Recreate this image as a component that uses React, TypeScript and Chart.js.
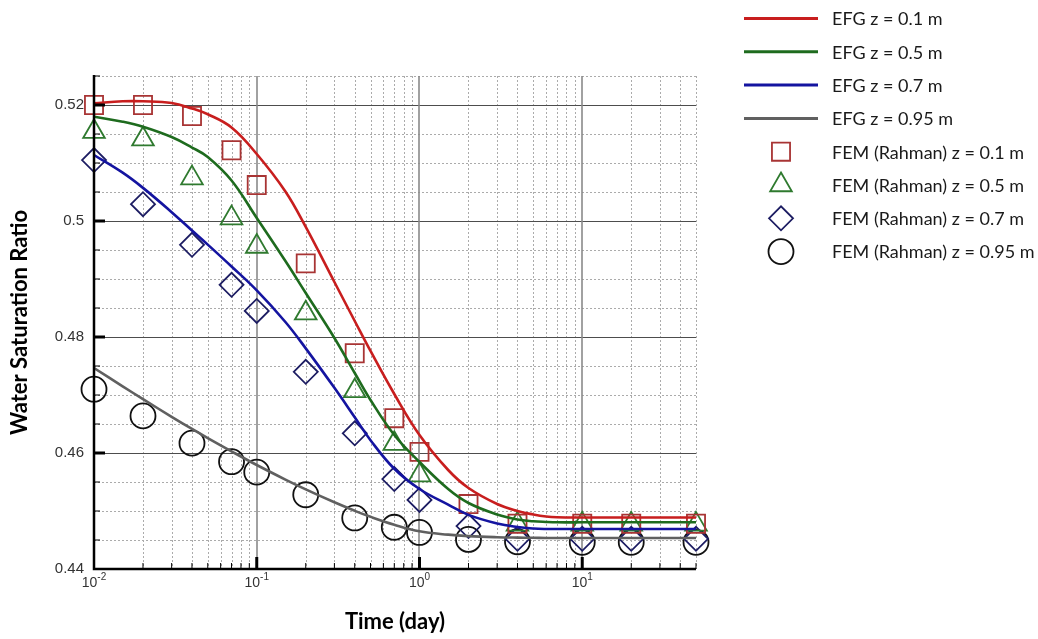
import React, { useEffect, useRef } from 'react';
import { Chart, registerables } from 'chart.js';

Chart.register(...registerables);

// ---------------- data ----------------
const curveTimes = [0.01, 0.015, 0.02, 0.03, 0.04, 0.05, 0.07, 0.1, 0.15, 0.2, 0.3, 0.4, 0.5, 0.7, 1, 1.5, 2, 3, 4, 5, 6, 7, 10, 20, 50];
const efgZ01 = [0.52029, 0.52064, 0.52064, 0.52034, 0.5194, 0.5184, 0.51612, 0.51155, 0.50509, 0.49897, 0.48948, 0.48276, 0.47759, 0.47017, 0.4631, 0.45707, 0.45397, 0.45121, 0.45, 0.4494, 0.44905, 0.44892, 0.44888, 0.44888, 0.44888];
const efgZ05 = [0.51798, 0.51712, 0.51626, 0.51448, 0.51267, 0.51103, 0.50698, 0.50052, 0.4931, 0.48759, 0.47983, 0.47379, 0.46914, 0.4631, 0.45845, 0.45379, 0.45138, 0.4494, 0.44854, 0.44823, 0.44811, 0.44805, 0.44805, 0.44805, 0.44805];
const efgZ07 = [0.51138, 0.50833, 0.50571, 0.50152, 0.49836, 0.49593, 0.49216, 0.48804, 0.48259, 0.47804, 0.47123, 0.46616, 0.46221, 0.45728, 0.45379, 0.45109, 0.44933, 0.44784, 0.44724, 0.44698, 0.4469, 0.4469, 0.4469, 0.4469, 0.4469];
const efgZ095 = [0.47466, 0.4715, 0.46929, 0.46624, 0.46414, 0.46257, 0.46028, 0.45793, 0.45542, 0.45373, 0.4515, 0.45004, 0.449, 0.44764, 0.4465, 0.44592, 0.44567, 0.44548, 0.44541, 0.44538, 0.44534, 0.44534, 0.44534, 0.44534, 0.44534];

const femTimes = [0.01, 0.02, 0.04, 0.07, 0.1, 0.2, 0.4, 0.7, 1, 2, 4, 10, 20, 50];
const femZ01 = [0.5200, 0.5200, 0.5181, 0.5122, 0.5062, 0.4927, 0.4772, 0.4660, 0.4602, 0.4512, 0.4478, 0.4478, 0.4478, 0.4478];
const femZ05 = [0.5154, 0.5141, 0.5074, 0.5005, 0.4956, 0.4841, 0.4707, 0.4616, 0.4562, null, 0.4477, 0.4477, 0.4477, 0.4477];
const femZ07 = [0.5105, 0.5029, 0.4959, 0.4890, 0.4845, 0.4740, 0.4634, 0.4555, 0.4519, 0.4474, 0.4452, 0.4452, 0.4452, 0.4452];
const femZ095 = [0.4710, 0.4664, 0.4617, 0.4585, 0.4567, 0.4528, 0.4488, 0.4472, 0.4463, 0.4451, 0.4447, 0.4446, 0.4446, 0.4446];

const lineLabels = ['EFG z = 0.1 m', 'EFG z = 0.5 m', 'EFG z = 0.7 m', 'EFG z = 0.95 m'];
const markerLabels = ['FEM (Rahman) z = 0.1 m', 'FEM (Rahman) z = 0.5 m', 'FEM (Rahman) z = 0.7 m', 'FEM (Rahman) z = 0.95 m'];

const yTickValues = [0.44, 0.46, 0.48, 0.5, 0.52];
const xTickExponents = [-2, -1, 0, 1];
const xTitle = 'Time (day)';
const yTitle = 'Water Saturation Ratio';

const X_MIN = 0.01;
const X_MAX = 50;
const Y_MIN = 0.44;
const Y_MAX = 0.525;
const Y_MINOR_STEP = 0.005;

// ---------------- styles ----------------
const lineColors = ['#c81e1e', '#1e6b1e', '#1414a0', '#606060'];
const markerColors = ['#a83434', '#2f7a2f', '#1c1c62', '#111111'];
const markerStyles = ['rect', 'triangle', 'rectRot', 'circle'];
const markerRadius = [12.8, 12.5, 12, 12.5];
const LABEL_FONT = '"Liberation Sans", Arial, sans-serif';
const TITLE_FONT = 'Lato, "Open Sans", sans-serif';

function drawMarker(ctx: CanvasRenderingContext2D, style: string, x: number, y: number, r: number) {
  ctx.beginPath();
  if (style === 'rect') {
    const s = r * Math.SQRT1_2;
    ctx.rect(x - s, y - s, 2 * s, 2 * s);
  } else if (style === 'triangle') {
    for (let i = 0; i < 3; i++) {
      const a = (i * 2 * Math.PI) / 3;
      const px = x + Math.sin(a) * r;
      const py = y - Math.cos(a) * r;
      if (i === 0) ctx.moveTo(px, py); else ctx.lineTo(px, py);
    }
    ctx.closePath();
  } else if (style === 'rectRot') {
    ctx.moveTo(x - r, y);
    ctx.lineTo(x, y - r);
    ctx.lineTo(x + r, y);
    ctx.lineTo(x, y + r);
    ctx.closePath();
  } else {
    ctx.arc(x, y, r, 0, Math.PI * 2);
  }
  ctx.stroke();
}

const decorPlugin = {
  id: 'decor',
  beforeDatasetsDraw(chart: any) {
    const { ctx, chartArea: a } = chart;
    const xs = chart.scales.x;
    const ys = chart.scales.y;
    ctx.save();
    // minor dotted grid
    ctx.lineWidth = 1;
    ctx.strokeStyle = '#ababab';
    ctx.setLineDash([2, 2]);
    const nMinor = Math.round((Y_MAX - Y_MIN) / Y_MINOR_STEP);
    for (let i = 1; i <= nMinor; i++) {
      if (i % 4 === 0) continue;
      const py = Math.round(ys.getPixelForValue(Y_MIN + i * Y_MINOR_STEP)) + 0.5;
      ctx.beginPath();
      ctx.moveTo(a.left, py);
      ctx.lineTo(a.right, py);
      ctx.stroke();
    }
    for (let e = -2; e <= 1; e++) {
      for (let k = 2; k <= 9; k++) {
        const v = k * Math.pow(10, e);
        if (v > X_MAX + 1e-9) break;
        const px = Math.round(xs.getPixelForValue(v)) + 0.5;
        ctx.beginPath();
        ctx.moveTo(px, a.top);
        ctx.lineTo(px, a.bottom);
        ctx.stroke();
      }
    }
    ctx.setLineDash([]);
    // major grid
    ctx.strokeStyle = '#4d4d4d';
    ctx.lineWidth = 1;
    for (const v of yTickValues) {
      if (v <= Y_MIN) continue;
      const py = Math.round(ys.getPixelForValue(v)) + 0.5;
      ctx.beginPath();
      ctx.moveTo(a.left, py);
      ctx.lineTo(a.right, py);
      ctx.stroke();
    }
    ctx.strokeStyle = '#8a8a8a';
    ctx.lineWidth = 1.6;
    for (const e of xTickExponents) {
      const v = Math.pow(10, e);
      if (v <= X_MIN) continue;
      const px = Math.round(xs.getPixelForValue(v));
      ctx.beginPath();
      ctx.moveTo(px, a.top);
      ctx.lineTo(px, a.bottom);
      ctx.stroke();
    }
    ctx.restore();
  },
  afterDatasetsDraw(chart: any) {
    const { ctx, chartArea: a } = chart;
    const xs = chart.scales.x;
    const ys = chart.scales.y;
    ctx.save();
    // axes
    ctx.strokeStyle = '#000';
    ctx.lineWidth = 2.5;
    ctx.beginPath();
    ctx.moveTo(a.left, a.top - 1);
    ctx.lineTo(a.left, a.bottom);
    ctx.lineTo(a.right, a.bottom);
    ctx.stroke();
    // y ticks
    const nMinor = Math.round((Y_MAX - Y_MIN) / Y_MINOR_STEP);
    for (let i = 1; i <= nMinor; i++) {
      const py = ys.getPixelForValue(Y_MIN + i * Y_MINOR_STEP);
      const major = i % 4 === 0;
      ctx.lineWidth = major ? 3 : 1;
      ctx.beginPath();
      ctx.moveTo(a.left, py);
      ctx.lineTo(a.left + (major ? 11 : 6), py);
      ctx.stroke();
    }
    // x ticks
    for (let e = -2; e <= 1; e++) {
      for (let k = 1; k <= 9; k++) {
        const v = k * Math.pow(10, e);
        if (v > X_MAX + 1e-9 || v <= X_MIN) continue;
        const px = xs.getPixelForValue(v);
        const major = k === 1;
        ctx.lineWidth = major ? 3 : 1;
        ctx.beginPath();
        ctx.moveTo(px, a.bottom);
        ctx.lineTo(px, a.bottom - (major ? 12 : 6));
        ctx.stroke();
      }
    }
    // x tick labels with superscript
    ctx.fillStyle = '#333';
    ctx.textBaseline = 'alphabetic';
    ctx.textAlign = 'left';
    for (const e of xTickExponents) {
      const px = xs.getPixelForValue(Math.pow(10, e));
      ctx.font = `14px ${LABEL_FONT}`;
      const wb = ctx.measureText('10').width;
      ctx.font = `10px ${LABEL_FONT}`;
      const sup = String(e);
      const ws = ctx.measureText(sup).width;
      const start = px - (wb + ws) / 2;
      ctx.font = `14px ${LABEL_FONT}`;
      ctx.fillText('10', start, a.bottom + 18);
      ctx.font = `10px ${LABEL_FONT}`;
      ctx.fillText(sup, start + wb, a.bottom + 11);
    }
    // legend
    const rowY0 = 18.5;
    const rowStep = 33.3;
    const lineX0 = 744;
    const lineX1 = 818;
    const markX = 781;
    const textX = 832;
    ctx.font = `18px ${TITLE_FONT}`;
    ctx.textBaseline = 'middle';
    const all = [...lineLabels, ...markerLabels];
    all.forEach((label, i) => {
      const yy = rowY0 + i * rowStep;
      if (i < 4) {
        ctx.strokeStyle = lineColors[i];
        ctx.lineWidth = 3;
        ctx.beginPath();
        ctx.moveTo(lineX0, yy);
        ctx.lineTo(lineX1, yy);
        ctx.stroke();
      } else {
        const j = i - 4;
        ctx.strokeStyle = markerColors[j];
        ctx.lineWidth = 1.8;
        drawMarker(ctx, markerStyles[j], markX, yy, markerRadius[j]);
      }
      ctx.fillStyle = '#1a1a1a';
      ctx.fillText(label, textX, yy + 1);
    });
    ctx.restore();
  },
};

export default function App() {
  const canvasRef = useRef<HTMLCanvasElement | null>(null);

  useEffect(() => {
    const canvas = canvasRef.current;
    if (!canvas) return;

    const lineSeries = [efgZ01, efgZ05, efgZ07, efgZ095];
    const markerSeries = [femZ01, femZ05, femZ07, femZ095];

    const lineDatasets = lineSeries.map((arr, i) => ({
      label: lineLabels[i],
      data: curveTimes.map((t, k) => ({ x: t, y: arr[k] })),
      borderColor: lineColors[i],
      borderWidth: 2.6,
      pointRadius: 0,
      fill: false,
      tension: 0.4,
      showLine: true,
    }));

    const markerDatasets = markerSeries.map((arr, i) => ({
      label: markerLabels[i],
      data: femTimes.map((t, k) => ({ x: t, y: arr[k] })),
      showLine: false,
      pointStyle: markerStyles[i],
      pointRadius: markerRadius[i],
      pointBorderWidth: 1.8,
      pointBorderColor: markerColors[i],
      pointBackgroundColor: 'rgba(0,0,0,0)',
      borderColor: markerColors[i],
      backgroundColor: 'rgba(0,0,0,0)',
      clip: false,
    }));

    const chart = new Chart(canvas, {
      type: 'line',
      data: { datasets: [...lineDatasets, ...markerDatasets] as any },
      options: {
        animation: false,
        responsive: false,
        devicePixelRatio: 1,
        events: [],
        layout: { padding: { top: 76, right: 342, left: 0, bottom: 0 } },
        plugins: { legend: { display: false }, tooltip: { enabled: false } },
        scales: {
          x: {
            type: 'logarithmic',
            min: X_MIN,
            max: X_MAX,
            grid: { display: false, drawTicks: false },
            border: { display: false },
            ticks: { display: false },
            title: {
              display: true,
              text: xTitle,
              color: '#000',
              font: { family: TITLE_FONT, size: 22, weight: 'bold' },
              padding: { top: 0, bottom: 4 },
            },
            afterFit: (s: any) => { s.height = 70; },
          },
          y: {
            type: 'linear',
            min: Y_MIN,
            max: Y_MAX,
            grid: { display: false, drawTicks: false },
            border: { display: false },
            afterBuildTicks: (s: any) => { s.ticks = yTickValues.map((v) => ({ value: v })); },
            ticks: {
              color: '#333',
              font: { family: LABEL_FONT, size: 15 },
              padding: 10,
              callback: (v: any) => String(v),
            },
            title: {
              display: true,
              text: yTitle,
              color: '#000',
              font: { family: TITLE_FONT, size: 22, weight: 'bold' },
              padding: { top: 7, bottom: 0 },
            },
            afterFit: (s: any) => { s.width = 94; },
          },
        },
      } as any,
      plugins: [decorPlugin],
    });

    return () => chart.destroy();
  }, []);

  return (
    <div style={{ position: 'absolute', left: 0, top: 0, width: 1038, height: 639, background: '#fff' }}>
      <canvas ref={canvasRef} width={1038} height={639} style={{ display: 'block' }} />
    </div>
  );
}
